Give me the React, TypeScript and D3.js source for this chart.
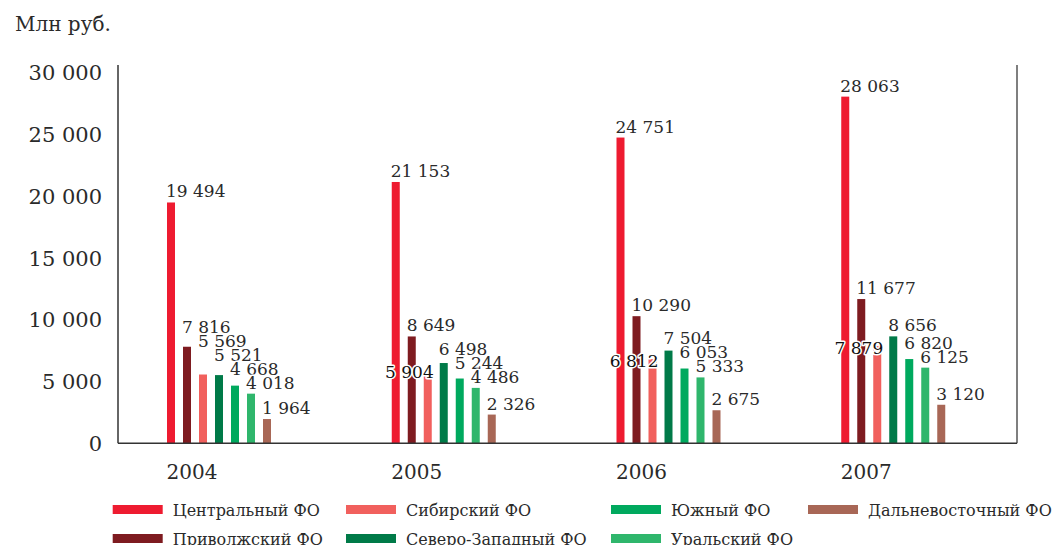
import React from "react";
import * as d3 from "d3";

const years = ["2004", "2005", "2006", "2007"];
const seriesNames = [
  "Центральный ФО",
  "Приволжский ФО",
  "Сибирский ФО",
  "Северо-Западный ФО",
  "Южный ФО",
  "Уральский ФО",
  "Дальневосточный ФО",
];
const central = [19494, 21153, 24751, 28063];
const volga = [7816, 8649, 10290, 11677];
const siberian = [5569, 5904, 6812, 7879];
const northWest = [5521, 6498, 7504, 8656];
const southern = [4668, 5244, 6053, 6820];
const ural = [4018, 4486, 5333, 6125];
const farEast = [1964, 2326, 2675, 3120];
const seriesValues = [central, volga, siberian, northWest, southern, ural, farEast];
const seriesColors = ["#ee1b30", "#7e1b20", "#f1605d", "#007a48", "#00a95e", "#2fb66c", "#a86756"];
const yTicks = [0, 5000, 10000, 15000, 20000, 25000, 30000];
// labels of Сибирский ФО drawn to the left of their bar in these years
const flippedLabelYears = ["2005", "2006", "2007"];
const unitLabel = "Млн руб.";

const W = 1059;
const H = 545;
const axisLeft = 118;
const axisRight = 1017;
const baseY = 443.3;
const topY = 72.7;
const serif = "'DejaVu Serif', serif";
const textColor = "#2a2a2a";

const fmt = d3
  .formatLocale({ decimal: ",", thousands: " ", grouping: [3], currency: ["", ""] })
  .format(",d");

export default function App() {
  const y = d3.scaleLinear().domain([0, 30000]).range([baseY, topY]);
  const x0 = d3.scaleBand<string>().domain(years).range([axisLeft, axisRight]).padding(0);
  const x1 = d3
    .scaleBand<string>()
    .domain(seriesNames)
    .range([0, 104])
    .paddingInner(0.5)
    .paddingOuter(0);
  const groupOffset = 49;
  const bw = x1.bandwidth();

  const legendCols = [112.7, 346, 611, 808];
  const legendRows = [505, 534];

  return (
    <svg
      width={W}
      height={H}
      style={{ position: "absolute", left: 0, top: 0, background: "#fff" }}
      fontFamily={serif}
    >
      <text x={15} y={31} fontSize={20} fill={textColor}>
        {unitLabel}
      </text>

      {/* y tick labels */}
      {yTicks.map((t) => (
        <text
          key={t}
          x={102}
          y={y(t)}
          dy="0.36em"
          textAnchor="end"
          fontSize={21}
          fill={textColor}
        >
          {fmt(t)}
        </text>
      ))}

      {/* bars */}
      {years.map((yr, yi) => {
        const gx = (x0(yr) as number) + groupOffset;
        const flipped = flippedLabelYears.includes(yr);
        // label positions (push up to avoid overlap)
        const pos: number[] = new Array(seriesNames.length).fill(0);
        let next = Infinity;
        for (let i = seriesNames.length - 1; i >= 0; i--) {
          const v = seriesValues[i][yi];
          if (flipped && i === 2) {
            pos[i] = y(v) + 8;
            continue;
          }
          const natural = y(v) - 5;
          pos[i] = Math.min(natural, next - 14);
          next = pos[i];
        }
        return (
          <g key={yr}>
            {seriesNames.map((s, si) => {
              const v = seriesValues[si][yi];
              const bx = gx + (x1(s) as number);
              return (
                <rect
                  key={s}
                  x={bx}
                  y={y(v)}
                  width={bw}
                  height={baseY - y(v)}
                  fill={seriesColors[si]}
                />
              );
            })}
            {seriesNames.map((s, si) => {
              const v = seriesValues[si][yi];
              const bx = gx + (x1(s) as number);
              const isFlip = flipped && si === 2;
              return (
                <text
                  key={"l" + s}
                  x={isFlip ? bx + bw + 2 : bx - 1}
                  y={pos[si]}
                  textAnchor={isFlip ? "end" : "start"}
                  fontSize={17}
                  fill={isFlip ? "#111" : textColor}
                  stroke="#fff"
                  strokeWidth={3}
                  strokeLinejoin="round"
                  style={{ paintOrder: "stroke" }}
                >
                  {fmt(v)}
                </text>
              );
            })}
            <text x={gx - 0.5} y={479} fontSize={20} fill={textColor}>
              {yr}
            </text>
          </g>
        );
      })}

      {/* axes frame */}
      <line x1={axisLeft} x2={axisLeft} y1={65} y2={baseY} stroke="#333" strokeWidth={1.5} />
      <line x1={axisRight} x2={axisRight} y1={65} y2={baseY} stroke="#555" strokeWidth={1.5} />
      <line x1={axisLeft} x2={axisRight} y1={baseY} y2={baseY} stroke="#333" strokeWidth={1.5} />

      {/* legend */}
      {seriesNames.map((s, i) => {
        const cx = legendCols[Math.floor(i / 2)];
        const ry = legendRows[i % 2];
        return (
          <g key={"lg" + s}>
            <rect x={cx} y={ry} width={50} height={9} fill={seriesColors[i]} />
            <text x={cx + 60} y={ry + 11} fontSize={16} fill={textColor}>
              {s}
            </text>
          </g>
        );
      })}
    </svg>
  );
}
